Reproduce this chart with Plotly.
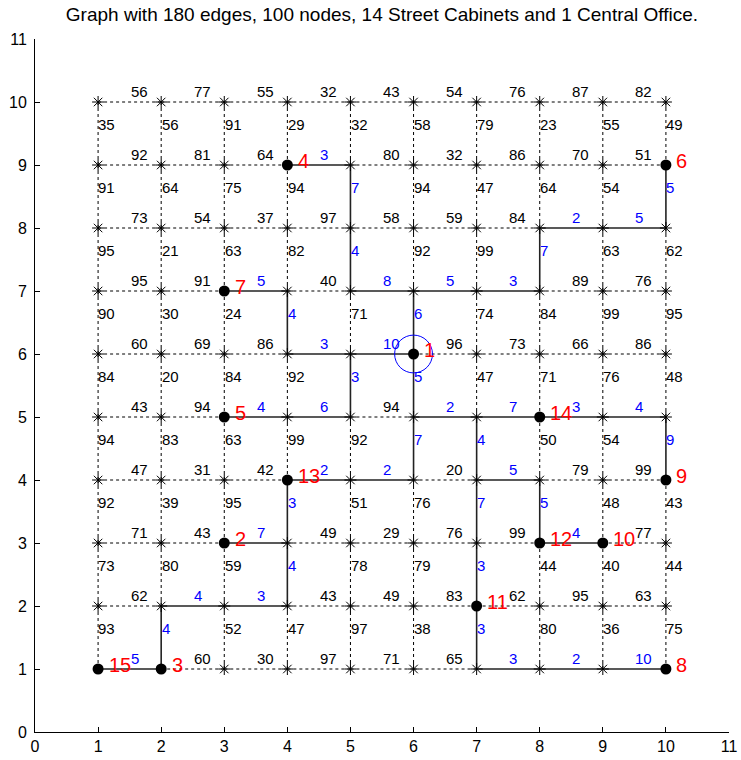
import plotly.graph_objects as go

# ---------------- data ----------------
title_text = "Graph with 180 edges, 100 nodes, 14 Street Cabinets and 1 Central Office."

# weights of horizontal edges (x,y)-(x+1,y); rows y=1..10, columns x=1..9
H_weights = [
    [5, 60, 30, 97, 71, 65, 3, 2, 10],
    [62, 4, 3, 43, 49, 83, 62, 95, 63],
    [71, 43, 7, 49, 29, 76, 99, 4, 77],
    [47, 31, 42, 2, 2, 20, 5, 79, 99],
    [43, 94, 4, 6, 94, 2, 7, 3, 4],
    [60, 69, 86, 3, 10, 96, 73, 66, 86],
    [95, 91, 5, 40, 8, 5, 3, 89, 76],
    [73, 54, 37, 97, 58, 59, 84, 2, 5],
    [92, 81, 64, 3, 80, 32, 86, 70, 51],
    [56, 77, 55, 32, 43, 54, 76, 87, 82],
]
# weights of vertical edges (x,y)-(x,y+1); rows y=1..9, columns x=1..10
V_weights = [
    [93, 4, 52, 47, 97, 38, 3, 80, 36, 75],
    [73, 80, 59, 4, 78, 79, 3, 44, 40, 44],
    [92, 39, 95, 3, 51, 76, 7, 5, 48, 43],
    [94, 83, 63, 99, 92, 7, 4, 50, 54, 9],
    [84, 20, 84, 92, 3, 5, 47, 71, 76, 48],
    [90, 30, 24, 4, 71, 6, 74, 84, 99, 95],
    [95, 21, 63, 82, 4, 92, 99, 7, 63, 62],
    [91, 64, 75, 94, 7, 94, 47, 64, 54, 5],
    [35, 56, 91, 29, 32, 58, 79, 23, 55, 49],
]
# tree (solid) horizontal edges: (x, y) meaning (x,y)-(x+1,y)
tree_H = [(4, 9), (8, 8), (9, 8), (3, 7), (5, 7), (6, 7), (7, 7), (4, 6), (5, 6),
          (3, 5), (4, 5), (6, 5), (7, 5), (8, 5), (9, 5), (4, 4), (5, 4), (7, 4),
          (3, 3), (8, 3), (2, 2), (3, 2), (1, 1), (7, 1), (8, 1), (9, 1)]
# tree (solid) vertical edges: (x, y) meaning (x,y)-(x,y+1)
tree_V = [(5, 8), (10, 8), (5, 7), (8, 7), (4, 6), (6, 6), (5, 5), (6, 5),
          (6, 4), (7, 4), (10, 4), (4, 3), (7, 3), (8, 3), (4, 2), (7, 2), (2, 1), (7, 1)]

# street cabinets / central office (label -> node)
site_labels = [1, 2, 3, 4, 5, 6, 7, 8, 9, 10, 11, 12, 13, 14, 15]
site_x = [6, 3, 2, 4, 3, 10, 3, 10, 10, 9, 7, 8, 4, 8, 1]
site_y = [6, 3, 1, 9, 5, 9, 7, 1, 4, 3, 2, 3, 4, 5, 1]
central_office = (6, 6)

grid_n = 10
tick_vals = list(range(0, 12))

# ---------------- figure ----------------
FONT = "Liberation Sans, Arial, sans-serif"
BLUE = "#0000FF"
RED = "#FF0000"

dot_x, dot_y, sol_x, sol_y = [], [], [], []
ann = []
tH = set(tree_H)
tV = set(tree_V)

for yi, row in enumerate(H_weights):
    y = yi + 1
    for xi, w in enumerate(row):
        x = xi + 1
        solid = (x, y) in tH
        if solid:
            sol_x += [x, x + 1, None]; sol_y += [y, y, None]
        else:
            dot_x += [x, x + 1, None]; dot_y += [y, y, None]
        ann.append(dict(x=x + 0.5, y=y + 0.16, text=str(w), showarrow=False,
                        xanchor="left", yanchor="middle", borderpad=0,
                        font=dict(family=FONT, size=15, color=BLUE if solid else "black")))

for yi, row in enumerate(V_weights):
    y = yi + 1
    for xi, w in enumerate(row):
        x = xi + 1
        solid = (x, y) in tV
        if solid:
            sol_x += [x, x, None]; sol_y += [y, y + 1, None]
        else:
            dot_x += [x, x, None]; dot_y += [y, y + 1, None]
        ann.append(dict(x=x - 0.01, y=y + 0.5 + 0.15, text=str(w), showarrow=False,
                        xanchor="left", yanchor="middle", borderpad=0,
                        font=dict(family=FONT, size=15, color=BLUE if solid else "black")))

for lab, sx, sy in zip(site_labels, site_x, site_y):
    ann.append(dict(x=sx + 0.15, y=sy + 0.07, text=str(lab), showarrow=False,
                    xanchor="left", yanchor="middle", borderpad=0,
                    font=dict(family=FONT, size=20, color=RED)))

fig = go.Figure()
fig.add_trace(go.Scatter(x=dot_x, y=dot_y, mode="lines",
                         line=dict(color="black", width=1, dash="dot"), hoverinfo="skip"))
fig.add_trace(go.Scatter(x=sol_x, y=sol_y, mode="lines",
                         line=dict(color="#222222", width=1.6), hoverinfo="skip"))

sites = set(zip(site_x, site_y))
nx = [x for y in range(1, grid_n + 1) for x in range(1, grid_n + 1) if (x, y) not in sites]
ny = [y for y in range(1, grid_n + 1) for x in range(1, grid_n + 1) if (x, y) not in sites]
fig.add_trace(go.Scatter(x=nx, y=ny, mode="markers", hoverinfo="skip",
                         marker=dict(symbol="asterisk-open", size=10, color="black",
                                     line=dict(color="black", width=1))))
fig.add_trace(go.Scatter(x=site_x, y=site_y, mode="markers", hoverinfo="skip",
                         marker=dict(symbol="circle", size=11, color="black")))

cx, cy = central_office
fig.add_shape(type="circle", xref="x", yref="y", x0=cx - 0.3, x1=cx + 0.3,
              y0=cy - 0.3, y1=cy + 0.3, line=dict(color=BLUE, width=1))

axis_common = dict(range=[0, 11], tickvals=tick_vals, ticks="inside", ticklen=5,
                   tickcolor="black", showline=True, linecolor="black", linewidth=1,
                   showgrid=False, zeroline=False, mirror=False, automargin=False,
                   tickfont=dict(family=FONT, size=16, color="black"))

fig.update_layout(
    width=741, height=760,
    margin=dict(l=35, r=12, t=39, b=28, autoexpand=False),
    paper_bgcolor="white", plot_bgcolor="white",
    showlegend=False,
    title=dict(text=title_text, x=0.5, xref="paper", xanchor="center",
               y=1 - 14 / 760, yref="container", yanchor="middle",
               font=dict(family=FONT, size=19, color="black")),
    xaxis=axis_common, yaxis=dict(axis_common, ticklabelstandoff=4),
    annotations=ann,
)

fig.write_html("out.html", config={"displayModeBar": False},
               post_script="document.body.style.margin='0px';document.body.style.overflow='hidden';")
